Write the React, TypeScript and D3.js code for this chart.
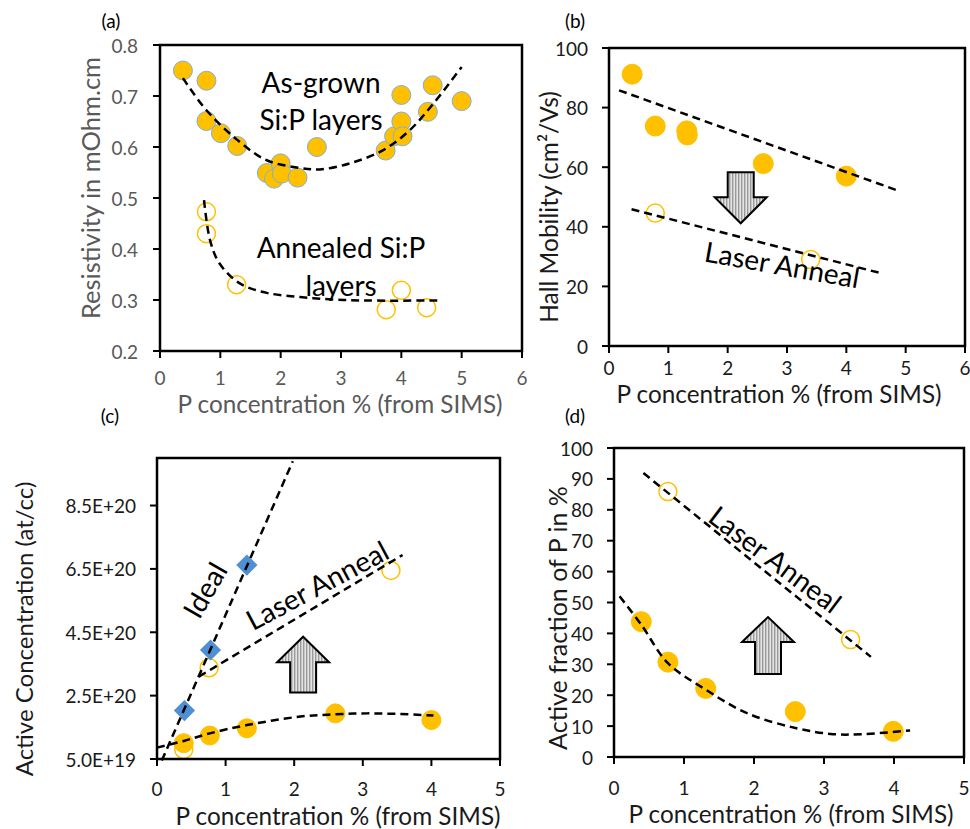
import * as d3 from "d3";

const FONT = "Lato, 'Open Sans', sans-serif";
const GOLD = "#FFC000";
const BLUE = "#4F8FD3";

// (a) resistivity vs P concentration
const asGrown: [number, number][] = [
  [0.38, 0.75], [0.77, 0.73], [0.77, 0.651], [1.01, 0.627], [1.28, 0.602],
  [1.77, 0.549], [1.89, 0.538], [2.0, 0.568], [2.02, 0.548], [2.28, 0.54],
  [2.6, 0.6], [3.74, 0.593], [3.88, 0.621], [4.0, 0.65], [4.02, 0.621],
  [4.0, 0.702], [4.44, 0.669], [4.52, 0.721], [5.0, 0.69],
];
const annealedA: [number, number][] = [
  [0.77, 0.473], [0.77, 0.43], [1.27, 0.33], [4.0, 0.319], [3.75, 0.281], [4.42, 0.285],
];
const asGrownTrend: [number, number][] = [
  [0.38, 0.735], [0.77, 0.672], [1.28, 0.614], [1.77, 0.574], [2.32, 0.559],
  [2.65, 0.556], [3.15, 0.568], [3.7, 0.594], [4.14, 0.633], [4.53, 0.685], [5.0, 0.757],
];
const annealedATrend: [number, number][] = [
  [0.73, 0.496], [0.83, 0.417], [0.99, 0.371], [1.33, 0.332], [1.77, 0.314],
  [2.32, 0.306], [2.87, 0.301], [3.43, 0.299], [4.64, 0.299],
];

// (b) Hall mobility
const mobility: [number, number][] = [
  [0.39, 91.2], [0.78, 73.8], [1.31, 72.2], [1.32, 70.8], [2.6, 61.2], [4.0, 57.0],
];
const mobilityLaser: [number, number][] = [[0.78, 44.6], [3.4, 29]];
const mobilityTrend: [number, number][] = [[0.17, 85.8], [4.89, 52]];
const mobilityLaserTrend: [number, number][] = [[0.38, 45.9], [4.57, 24.5]];

// (c) active concentration
const idealConc: [number, number][] = [[0.4, 2.03e20], [0.78, 3.94e20], [1.31, 6.62e20]];
const laserConc: [number, number][] = [[0.39, 8.0e19], [0.76, 3.38e20], [3.41, 6.45e20]];
const activeConc: [number, number][] = [
  [0.39, 1.0e20], [0.77, 1.24e20], [1.31, 1.47e20], [2.6, 1.94e20], [4.0, 1.73e20],
];
const idealTrend: [number, number][] = [[0.07, 4.5e19], [1.98, 9.9e20]];
const laserConcTrend: [number, number][] = [[0.61, 3.1e20], [3.58, 6.94e20]];
const activeConcTrend: [number, number][] = [
  [0.0, 8.6e19], [0.39, 1.07e20], [0.77, 1.31e20], [1.31, 1.57e20], [2.09, 1.84e20],
  [2.6, 1.91e20], [3.06, 1.94e20], [3.54, 1.92e20], [4.03, 1.87e20],
];

// (d) active fraction
const fraction: [number, number][] = [
  [0.39, 43.8], [0.77, 30.7], [1.31, 22.2], [2.59, 14.7], [3.99, 8.3],
];
const fractionLaser: [number, number][] = [[0.77, 85.9], [3.38, 38.0]];
const fractionLaserTrend: [number, number][] = [[0.42, 91.9], [3.67, 32.4]];
const fractionTrend: [number, number][] = [
  [0.08, 52.0], [0.39, 42.8], [0.77, 30.4], [1.31, 21.8], [1.9, 14.2],
  [2.59, 9.4], [3.13, 7.4], [3.56, 7.4], [4.23, 8.6],
];

const xTicks6 = [0, 1, 2, 3, 4, 5, 6];
const xTicks5 = [0, 1, 2, 3, 4, 5];
const yTicksA = [0.2, 0.3, 0.4, 0.5, 0.6, 0.7, 0.8];
const yTicksB = [0, 20, 40, 60, 80, 100];
const yTicksC = [5e19, 2.5e20, 4.5e20, 6.5e20, 8.5e20];
const yTicksD = [0, 10, 20, 30, 40, 50, 60, 70, 80, 90, 100];

const xTitle = "P concentration % (from SIMS)";

type Scale = d3.ScaleLinear<number, number>;

function Arrow({ x, y, cx, base, tip, head }: any) {
  const X = x(cx);
  const b = y(base), hb = y(head), t = y(tip);
  const sw = 13, hw = 26;
  const pts = [
    [X - sw, b], [X - sw, hb], [X - hw, hb], [X, t], [X + hw, hb], [X + sw, hb], [X + sw, b],
  ];
  return <polygon points={pts.map((p) => p.join(",")).join(" ")} fill="url(#hatch)" stroke="#000" strokeWidth={2} />;
}

function Panel({
  box, xDomain, yDomain, xTicks, yTicks, yFormat, color, tickSize, labelGapY, labelYOffset,
  xTitlePos, yTitlePos, tag, tagPos, children,
}: any) {
  const x = d3.scaleLinear().domain(xDomain).range([box.left, box.right]);
  const y = d3.scaleLinear().domain(yDomain).range([box.bottom, box.top]);
  return (
    <g fontFamily={FONT}>
      {xTicks.map((t: number) => (
        <g key={"x" + t}>
          <line x1={x(t)} x2={x(t)} y1={box.bottom} y2={box.bottom + 7} stroke="#000" strokeWidth={2} />
          <text x={x(t)} y={box.bottom + labelYOffset} textAnchor="middle" dominantBaseline="central" fontSize={tickSize} fill={color}>{t}</text>
        </g>
      ))}
      {yTicks.map((t: number) => (
        <g key={"y" + t}>
          <line x1={box.left - 7} x2={box.left} y1={y(t)} y2={y(t)} stroke="#000" strokeWidth={2} />
          <text x={box.left - labelGapY} y={y(t)} textAnchor="end" dominantBaseline="central" fontSize={tickSize} fill={color}>{yFormat(t)}</text>
        </g>
      ))}
      <text x={xTitlePos[0]} y={xTitlePos[1]} textAnchor="middle" fontSize={24.3} fill={color}>{xTitle}</text>
      <text transform={`translate(${yTitlePos[0]},${yTitlePos[1]}) rotate(-90)`} textAnchor="middle" dominantBaseline="central" fontSize={yTitlePos[3] ?? 24.3} fill={color}>{yTitlePos[2]}</text>
      <text x={tagPos[0]} y={tagPos[1]} textAnchor="middle" dominantBaseline="central" fontSize={19} fill="#000">{tag}</text>
      {children(x, y)}
      <rect x={box.left} y={box.top} width={box.right - box.left} height={box.bottom - box.top} fill="none" stroke="#000" strokeWidth={2.5} />
    </g>
  );
}

function Trend({ x, y, pts, curve }: any) {
  const line = d3.line<[number, number]>().x((d) => x(d[0])).y((d) => y(d[1])).curve(curve ?? d3.curveLinear);
  return <path d={line(pts) ?? ""} fill="none" stroke="#000" strokeWidth={2.5} strokeDasharray="8,5" />;
}

function Filled({ x, y, pts, stroke, r = 9.5 }: any) {
  return (
    <g>
      {pts.map((p: [number, number], i: number) => (
        <circle key={i} cx={x(p[0])} cy={y(p[1])} r={r} fill={GOLD} stroke={stroke ?? GOLD} strokeWidth={1} />
      ))}
    </g>
  );
}

function Open({ x, y, pts, r = 9 }: any) {
  return (
    <g>
      {pts.map((p: [number, number], i: number) => (
        <circle key={i} cx={x(p[0])} cy={y(p[1])} r={r} fill="#fff" stroke={GOLD} strokeWidth={1.5} />
      ))}
    </g>
  );
}

function Label({ x, y, at, angle = 0, text, size = 28 }: any) {
  return (
    <text transform={`translate(${x(at[0])},${y(at[1])}) rotate(${angle})`} textAnchor="middle" dominantBaseline="central" fontSize={size} fill="#000" fontFamily={FONT}>{text}</text>
  );
}

export default function App() {
  const fmt1 = d3.format(".1f");
  const fmtInt = (v: number) => String(v);
  const fmtExp = (v: number) => v.toExponential(1).toUpperCase();
  return (
    <svg width={970} height={829} style={{ position: "absolute", left: 0, top: 0, background: "#fff" }}>
      <defs>
        <pattern id="hatch" width={3} height={4} patternUnits="userSpaceOnUse">
          <rect width={3} height={4} fill="#e4e4e4" />
          <rect width={1.4} height={4} fill="#9a9a9a" />
        </pattern>
      </defs>
      <rect width={970} height={829} fill="#fff" />

      <Panel box={{ left: 160, right: 522, top: 45, bottom: 351 }} xDomain={[0, 6]} yDomain={[0.2, 0.8]}
        xTicks={xTicks6} yTicks={yTicksA} yFormat={fmt1} color="#595959" tickSize={19}
        labelGapY={22} labelYOffset={26} xTitlePos={[340, 413]} yTitlePos={[90, 188, "Resistivity in mOhm.cm", 25.5]}
        tag="(a)" tagPos={[111, 20]}>
        {(x: Scale, y: Scale) => (
          <g>
            <Filled x={x} y={y} pts={asGrown} stroke="#7FB0DA" />
            <Open x={x} y={y} pts={annealedA} />
            <Trend x={x} y={y} pts={asGrownTrend} curve={d3.curveCatmullRom} />
            <Trend x={x} y={y} pts={annealedATrend} curve={d3.curveCatmullRom} />
            <Label x={x} y={y} at={[2.67, 0.728]} text="As-grown" />
            <Label x={x} y={y} at={[2.67, 0.655]} text="Si:P layers" />
            <Label x={x} y={y} at={[3.0, 0.403]} text="Annealed Si:P" />
            <Label x={x} y={y} at={[3.0, 0.33]} text="layers" />
          </g>
        )}
      </Panel>

      <Panel box={{ left: 609, right: 965, top: 48, bottom: 346 }} xDomain={[0, 6]} yDomain={[0, 100]}
        xTicks={xTicks6} yTicks={yTicksB} yFormat={fmtInt} color="#1a1a1a" tickSize={19}
        labelGapY={21} labelYOffset={21} xTitlePos={[779, 403]} yTitlePos={[548, 207, "Hall Mobility  (cm²/Vs)", 24.5]}
        tag="(b)" tagPos={[575, 20]}>
        {(x: Scale, y: Scale) => (
          <g>
            <Filled x={x} y={y} pts={mobility} r={10} />
            <Open x={x} y={y} pts={mobilityLaser} />
            <Trend x={x} y={y} pts={mobilityTrend} />
            <Trend x={x} y={y} pts={mobilityLaserTrend} />
            <Arrow x={x} y={y} cx={2.22} base={58.3} head={49.9} tip={41.2} />
            <Label x={x} y={y} at={[2.92, 27.5]} angle={10} text="Laser Anneal" />
          </g>
        )}
      </Panel>

      <Panel box={{ left: 157, right: 500, top: 458, bottom: 759 }} xDomain={[0, 5]} yDomain={[5e19, 1e21]}
        xTicks={xTicks5} yTicks={yTicksC} yFormat={fmtExp} color="#1a1a1a" tickSize={19}
        labelGapY={21} labelYOffset={29} xTitlePos={[338, 825]} yTitlePos={[23, 629, "Active Concentration (at/cc)", 24]}
        tag="(c)" tagPos={[110, 415]}>
        {(x: Scale, y: Scale) => (
          <g>
            <Open x={x} y={y} pts={laserConc} />
            <Filled x={x} y={y} pts={activeConc} />
            {idealConc.map((p, i) => (
              <rect key={i} x={x(p[0]) - 7.5} y={y(p[1]) - 7.5} width={15} height={15} fill={BLUE}
                transform={`rotate(45 ${x(p[0])} ${y(p[1])})`} />
            ))}
            <Trend x={x} y={y} pts={idealTrend} />
            <Trend x={x} y={y} pts={laserConcTrend} />
            <Trend x={x} y={y} pts={activeConcTrend} curve={d3.curveCatmullRom} />
            <Arrow x={x} y={y} cx={2.13} base={2.6e20} head={3.55e20} tip={4.36e20} />
            <Label x={x} y={y} at={[0.69, 5.84e20]} angle={-60} text="Ideal" />
            <Label x={x} y={y} at={[2.33, 6.0e20]} angle={-28} text="Laser Anneal" />
          </g>
        )}
      </Panel>

      <Panel box={{ left: 614, right: 964, top: 448, bottom: 757 }} xDomain={[0, 5]} yDomain={[0, 100]}
        xTicks={xTicks5} yTicks={yTicksD} yFormat={fmtInt} color="#1a1a1a" tickSize={19}
        labelGapY={21} labelYOffset={30} xTitlePos={[791, 823]} yTitlePos={[557, 618, "Active fraction of P in %", 25]}
        tag="(d)" tagPos={[575, 415]}>
        {(x: Scale, y: Scale) => (
          <g>
            <Filled x={x} y={y} pts={fraction} r={10} />
            <Open x={x} y={y} pts={fractionLaser} />
            <Trend x={x} y={y} pts={fractionLaserTrend} />
            <Trend x={x} y={y} pts={fractionTrend} curve={d3.curveCatmullRom} />
            <Arrow x={x} y={y} cx={2.2} base={26.9} head={37.2} tip={45.3} />
            <Label x={x} y={y} at={[2.31, 64.1]} angle={37} text="Laser Anneal" />
          </g>
        )}
      </Panel>
    </svg>
  );
}
